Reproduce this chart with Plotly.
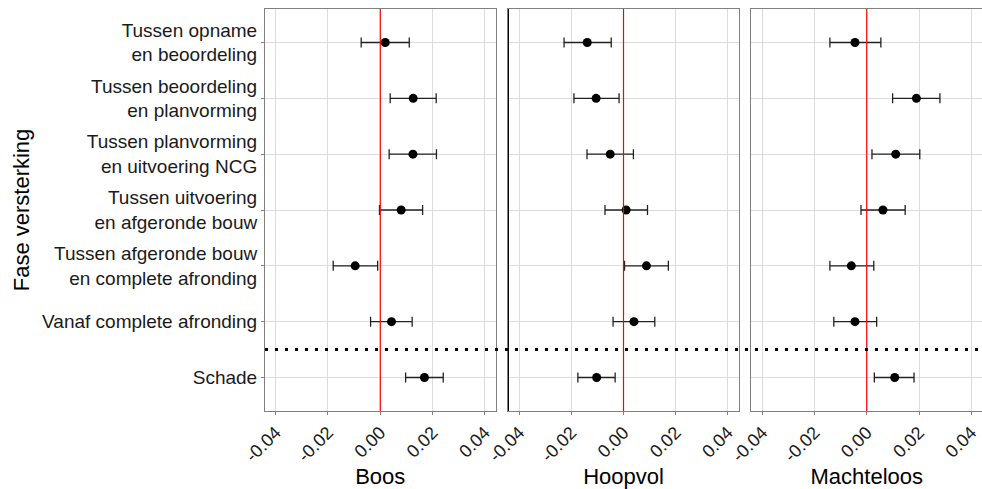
import plotly.graph_objects as go
from plotly.subplots import make_subplots

categories = [
    "Tussen opname<br>en beoordeling",
    "Tussen beoordeling<br>en planvorming",
    "Tussen planvorming<br>en uitvoering NCG",
    "Tussen uitvoering<br>en afgeronde bouw",
    "Tussen afgeronde bouw<br>en complete afronding",
    "Vanaf complete afronding",
    "Schade",
]
panels = ["Boos", "Hoopvol", "Machteloos"]

boos_est = [0.0019, 0.0126, 0.0125, 0.0080, -0.0096, 0.0043, 0.0169]
boos_lo = [-0.0073, 0.0038, 0.0034, -0.0003, -0.0180, -0.0037, 0.0097]
boos_hi = [0.0111, 0.0214, 0.0215, 0.0162, -0.0010, 0.0122, 0.0241]

hoop_est = [-0.0139, -0.0105, -0.0051, 0.0010, 0.0088, 0.0040, -0.0103]
hoop_lo = [-0.0228, -0.0190, -0.0140, -0.0071, 0.0004, -0.0040, -0.0175]
hoop_hi = [-0.0047, -0.0017, 0.0038, 0.0092, 0.0172, 0.0120, -0.0032]

macht_est = [-0.0045, 0.0190, 0.0111, 0.0062, -0.0059, -0.0045, 0.0107]
macht_lo = [-0.0141, 0.0099, 0.0020, -0.0022, -0.0141, -0.0126, 0.0029]
macht_hi = [0.0054, 0.0280, 0.0203, 0.0147, 0.0027, 0.0038, 0.0181]

x_ticks = [-0.04, -0.02, 0.0, 0.02, 0.04]
x_ticklabels = ["-0.04", "-0.02", "0.00", "0.02", "0.04"]

series = [(boos_est, boos_lo, boos_hi), (hoop_est, hoop_lo, hoop_hi), (macht_est, macht_lo, macht_hi)]

fig = make_subplots(rows=1, cols=3, shared_yaxes=True, horizontal_spacing=0.02)

font_family = "Liberation Sans, Arial, sans-serif"
for i, (est, lo, hi) in enumerate(series):
    fig.add_trace(
        go.Scatter(
            x=est,
            y=categories,
            mode="markers",
            marker=dict(color="black", size=9),
            error_x=dict(
                type="data",
                symmetric=False,
                array=[h - e for h, e in zip(hi, est)],
                arrayminus=[e - l for e, l in zip(est, lo)],
                color="#222222",
                thickness=1.3,
                width=5,
            ),
            showlegend=False,
        ),
        row=1,
        col=i + 1,
    )

domains = [[0.0, 0.3215], [0.3396, 0.6604], [0.6785, 1.0]]
for i in range(3):
    ax = "xaxis" if i == 0 else f"xaxis{i + 1}"
    fig.layout[ax].update(
        domain=domains[i],
        range=[-0.0441, 0.0441],
        tickvals=x_ticks,
        ticktext=x_ticklabels,
        tickangle=-45,
        tickfont=dict(size=18, color="#1a1a1a", family=font_family),
        showgrid=True,
        gridcolor="#dcdcdc",
        gridwidth=1,
        zeroline=False,
        showline=True,
        linecolor="#808080",
        linewidth=1,
        mirror=True,
        ticks="outside",
        ticklen=3,
        tickcolor="#808080",
        title=dict(text=panels[i], font=dict(size=22, color="black", family=font_family), standoff=6),
    )
    ay = "yaxis" if i == 0 else f"yaxis{i + 1}"
    fig.layout[ay].update(
        type="category",
        categoryorder="array",
        categoryarray=list(reversed(categories)),
        range=[-0.6, 6.6],
        showgrid=True,
        gridcolor="#dcdcdc",
        gridwidth=1,
        zeroline=False,
        showline=True,
        linecolor="#808080",
        linewidth=1,
        mirror=True,
        ticks="outside" if i == 0 else "",
        ticklen=3,
        tickcolor="#808080",
        showticklabels=(i == 0),
        tickfont=dict(size=19, color="#1a1a1a", family=font_family),
    )
    xref = "x" if i == 0 else f"x{i + 1}"
    yref = "y" if i == 0 else f"y{i + 1}"
    fig.add_shape(
        type="line", xref=xref, yref=f"{yref} domain",
        x0=0, x1=0, y0=0, y1=1,
        line=dict(color="red", width=1.2),
    )

# darker left border of the middle panel
fig.add_shape(
    type="line", xref="x2 domain", yref="y2 domain",
    x0=0, x1=0, y0=0, y1=1,
    line=dict(color="black", width=1),
)

fig.layout.yaxis.update(
    title=dict(text="Fase versterking", font=dict(size=22, color="black", family=font_family), standoff=6)
)

# dotted separator across all panels, between "Vanaf complete afronding" and "Schade"
fig.add_shape(
    type="line", xref="paper", yref="y",
    x0=0, x1=1, y0=0.5, y1=0.5,
    line=dict(color="black", width=3, dash="3px,7px"),
)

fig.update_layout(
    width=982,
    height=489,
    margin=dict(l=265, r=0, t=9, b=78),
    paper_bgcolor="white",
    plot_bgcolor="white",
    font=dict(family=font_family, color="black"),
)

fig.write_html(
    "out.html",
    config={"displayModeBar": False},
    post_script="document.body.style.margin='0';document.body.style.padding='0';",
)
